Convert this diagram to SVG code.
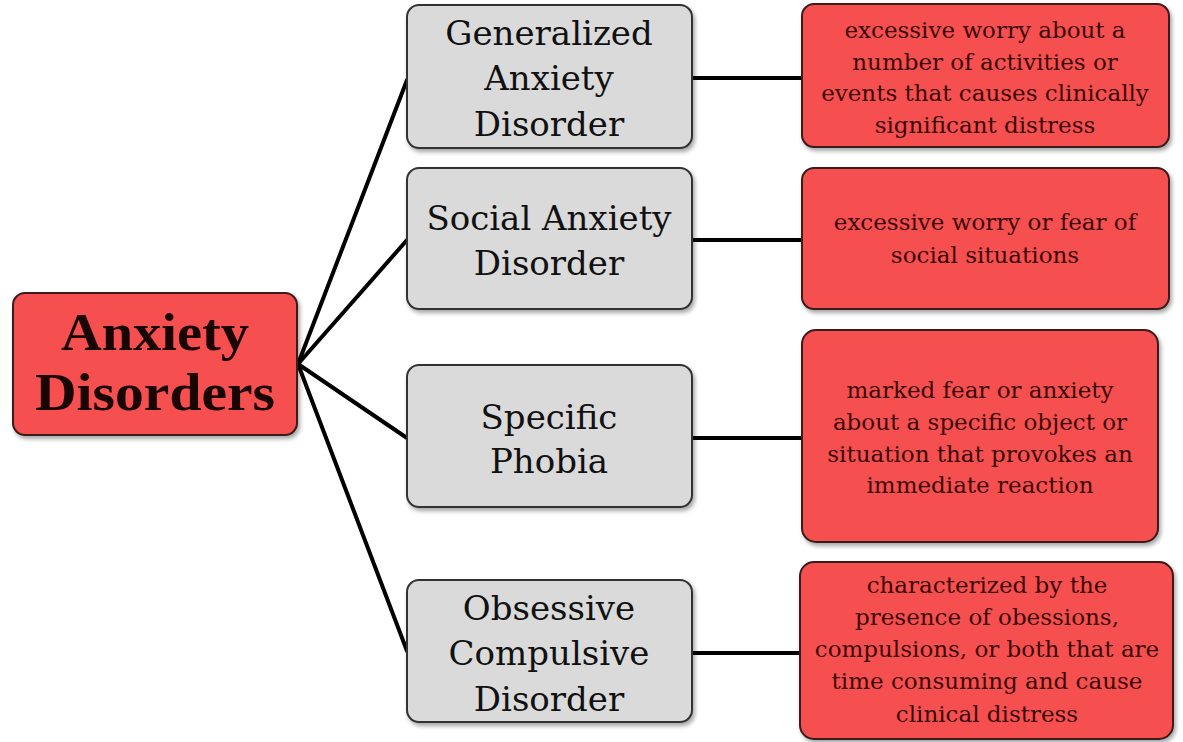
<svg xmlns="http://www.w3.org/2000/svg" width="1183" height="742" viewBox="0 0 1183 742">
<style>
.bg{fill:#ffffff}
.red{fill:#f64f4f;stroke:#3a1a1a;stroke-width:2}
.gray{fill:#dadada;stroke:#333333;stroke-width:2}
.conn line{stroke:#000000;stroke-width:4;stroke-linecap:round}
.root{font-family:"Liberation Serif","Times New Roman",serif;font-weight:bold;font-size:52px;fill:#1a0505;text-anchor:middle}
.gt{font-family:"DejaVu Serif","Liberation Serif",serif;font-size:34px;fill:#111111;text-anchor:middle}
.rt{font-family:"DejaVu Serif","Liberation Serif",serif;font-size:23px;fill:#3a0808;text-anchor:middle}
</style>
<defs>
<filter id="sh" x="-10%" y="-10%" width="125%" height="130%">
<feDropShadow dx="2" dy="3" stdDeviation="2" flood-color="#000" flood-opacity="0.35"/>
</filter>
</defs>
<rect class="bg" x="0" y="0" width="1183" height="742"/>
<g id="connectors" class="conn">
<line x1="298" y1="364" x2="407" y2="80"/>
<line x1="298" y1="364" x2="407" y2="240"/>
<line x1="298" y1="364" x2="407" y2="438"/>
<line x1="298" y1="364" x2="407" y2="651"/>
<line x1="692" y1="78" x2="802" y2="78"/>
<line x1="692" y1="240" x2="802" y2="240"/>
<line x1="692" y1="438" x2="802" y2="438"/>
<line x1="692" y1="653" x2="800" y2="653"/>
</g>
<g id="anxiety-disorders">
<rect class="red" x="13" y="293" width="284" height="142" rx="12" filter="url(#sh)"/>
<text class="root" x="155" y="350" textLength="188" lengthAdjust="spacingAndGlyphs">Anxiety</text>
<text class="root" x="155" y="410" textLength="240" lengthAdjust="spacingAndGlyphs">Disorders</text>
</g>
<g id="gad">
<rect class="gray" x="407" y="5" width="285" height="143" rx="12" filter="url(#sh)"/>
<text class="gt" x="549" y="45">Generalized</text>
<text class="gt" x="549" y="90">Anxiety</text>
<text class="gt" x="549" y="136">Disorder</text>
</g>
<g id="sad">
<rect class="gray" x="407" y="168" width="285" height="141" rx="12" filter="url(#sh)"/>
<text class="gt" x="549" y="230">Social Anxiety</text>
<text class="gt" x="549" y="275">Disorder</text>
</g>
<g id="sp">
<rect class="gray" x="407" y="365" width="285" height="142" rx="12" filter="url(#sh)"/>
<text class="gt" x="549" y="429">Specific</text>
<text class="gt" x="549" y="473">Phobia</text>
</g>
<g id="ocd">
<rect class="gray" x="407" y="580" width="285" height="142" rx="12" filter="url(#sh)"/>
<text class="gt" x="549" y="620">Obsessive</text>
<text class="gt" x="549" y="665">Compulsive</text>
<text class="gt" x="549" y="711">Disorder</text>
</g>
<g id="gad-desc">
<rect class="red" x="802" y="4" width="367" height="143" rx="12" filter="url(#sh)"/>
<text class="rt" x="985" y="38">excessive worry about a</text>
<text class="rt" x="985" y="70">number of activities or</text>
<text class="rt" x="985" y="101">events that causes clinically</text>
<text class="rt" x="985" y="133">significant distress</text>
</g>
<g id="sad-desc">
<rect class="red" x="802" y="168" width="367" height="141" rx="12" filter="url(#sh)"/>
<text class="rt" x="985" y="230">excessive worry or fear of</text>
<text class="rt" x="985" y="263">social situations</text>
</g>
<g id="sp-desc">
<rect class="red" x="802" y="330" width="356" height="212" rx="14" filter="url(#sh)"/>
<text class="rt" x="980" y="398">marked fear or anxiety</text>
<text class="rt" x="980" y="430">about a specific object or</text>
<text class="rt" x="980" y="462">situation that provokes an</text>
<text class="rt" x="980" y="493">immediate reaction</text>
</g>
<g id="ocd-desc">
<rect class="red" x="800" y="562" width="373" height="177" rx="14" filter="url(#sh)"/>
<text class="rt" x="987" y="593">characterized by the</text>
<text class="rt" x="987" y="625">presence of obessions,</text>
<text class="rt" x="987" y="657">compulsions, or both that are</text>
<text class="rt" x="987" y="689">time consuming and  cause</text>
<text class="rt" x="987" y="722">clinical distress</text>
</g>
</svg>
